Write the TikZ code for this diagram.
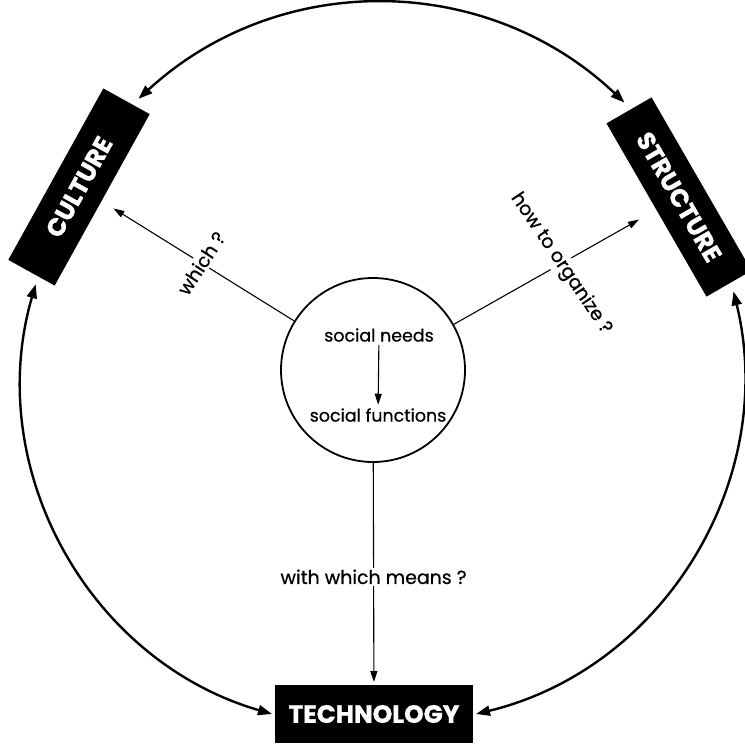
\documentclass[tikz,border=0pt]{standalone}
\usepackage{fontspec}
\setmainfont{Poppins}[BoldFeatures={FakeBold=1.2}]
\newfontfamily\semi{Poppins}[FakeBold=0.6]
\usetikzlibrary{arrows.meta}
\begin{document}
\begin{tikzpicture}[x=1bp,y=-1bp]
	\tikzstyle{bx} = [fill=black, text=white, inner sep=0pt, font=\fontsize{25}{27}\selectfont\bfseries]
	\tikzstyle{lbl} = [fill=white, inner sep=2bp, font=\fontsize{19}{22}\selectfont\semi]
	\tikzstyle{ring} = [line width=2.4bp, {Triangle[length=14bp,width=10bp]}-{Triangle[length=14bp,width=10bp]}]
	\tikzstyle{ask} = [line width=1.1bp, -{Triangle[length=11bp,width=7bp]}]
	\useasboundingbox (0,0) rectangle (745,747);
	% centre
	\node[draw, circle, line width=1.8bp, minimum size=184bp] (hub) at (373,370) {};
	\node[font=\fontsize{17.5}{20}\selectfont\semi] (needs) at (379,335) {social needs};
	\node[font=\fontsize{17.5}{20}\selectfont\semi] (funcs) at (378,415) {social functions};
	\draw[ask] (needs) -- (funcs);
	% the three boxes
	\node[bx, rotate=61, minimum width=196bp, minimum height=53bp, outer sep=8bp] (culture) at (79,187) {CULTURE};
	\node[bx, rotate=-60, minimum width=200bp, minimum height=52bp, outer sep=9bp] (structure) at (679,197) {STRUCTURE};
	\node[bx, minimum width=198bp, minimum height=58bp, outer sep=3bp] (technology) at (374,714) {TECHNOLOGY};
	% outer ring
	\draw[ring] (culture.-5) to[bend left=43] (structure.west);
	\draw[ring] (culture.185) to[bend right=45] (technology.west);
	\draw[ring] (structure.east) to[bend left=45] (technology.east);
	% questions
	\draw[ask, shorten >=6bp] (hub) -- node[lbl, rotate=57] {which ?} (culture);
	\draw[ask, shorten >=11bp] (hub) -- node[lbl, rotate=-56, pos=0.55] {how to organize ?} (structure);
	\draw[ask] (hub) -- node[lbl, pos=0.52] {with which means ?} (technology);
\end{tikzpicture}
\end{document}
